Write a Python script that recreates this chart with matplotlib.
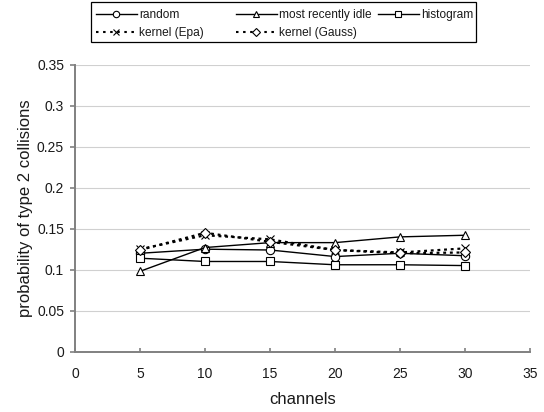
import matplotlib
matplotlib.use("Agg")
import matplotlib.pyplot as plt
from matplotlib.lines import Line2D
from matplotlib.patches import Rectangle

plt.rcParams['font.family'] = ['Liberation Sans', 'DejaVu Sans']

channels = [5, 10, 15, 20, 25, 30]
random_vals = [0.120, 0.125, 0.124, 0.116, 0.120, 0.117]
mri_vals = [0.098, 0.127, 0.133, 0.133, 0.140, 0.142]
hist_vals = [0.114, 0.110, 0.110, 0.106, 0.106, 0.105]
epa_vals = [0.125, 0.142, 0.137, 0.124, 0.121, 0.126]
gauss_vals = [0.124, 0.145, 0.134, 0.124, 0.120, 0.121]

x_ticks = [0, 5, 10, 15, 20, 25, 30, 35]
y_ticks = [0, 0.05, 0.1, 0.15, 0.2, 0.25, 0.3, 0.35]
y_labels = ['0', '0.05', '0.1', '0.15', '0.2', '0.25', '0.3', '0.35']

TXT = '#1a1a1a'
fig = plt.figure(figsize=(5.44, 4.12), dpi=100)
ax = fig.add_axes([0.1379, 0.1464, 0.8364, 0.6966])

DASH = (0, (1.3, 1.7))
solid = dict(color='black', lw=1.0, markersize=6, markerfacecolor='white',
             markeredgecolor='black', markeredgewidth=0.8)
dashed = dict(color='black', lw=1.6, linestyle=DASH, markersize=6, markerfacecolor='white',
              markeredgecolor='black', markeredgewidth=0.8)

ax.plot(channels, random_vals, marker='o', **solid)
ax.plot(channels, mri_vals, marker='^', **solid)
ax.plot(channels, hist_vals, marker='s', **solid)
ax.plot(channels, epa_vals, marker='x', **dashed)
ax.plot(channels, gauss_vals, marker='D', **{**dashed, 'markersize': 5})

ax.set_xlim(0, 35)
ax.set_ylim(0, 0.35)
ax.set_xticks(x_ticks)
ax.set_yticks(y_ticks)
ax.set_yticklabels(y_labels)
ax.grid(axis='y', color='#d0d0d0', lw=0.8)
ax.set_axisbelow(True)
for s in ['top', 'right']:
    ax.spines[s].set_visible(False)
for s in ['left', 'bottom']:
    ax.spines[s].set_color('#808080')
    ax.spines[s].set_linewidth(1.4)
ax.tick_params(axis='x', direction='in', colors='#808080', labelcolor=TXT, labelsize=10,
               length=3, width=1.2, pad=11)
ax.tick_params(axis='y', direction='out', colors='#808080', labelcolor=TXT, labelsize=10,
               length=3.6, width=1.2, pad=4.3)
ax.set_xlabel('channels', fontsize=12, color=TXT, labelpad=8)
ax.set_ylabel('probability of type 2 collisions', fontsize=12, color=TXT, labelpad=3)

# legend (Excel-style boxed legend with evenly spaced columns)
lsolid = dict(color='black', lw=1.0, markersize=4.6, markerfacecolor='white',
              markeredgecolor='black', markeredgewidth=0.8)
ldashed = dict(color='black', lw=1.5, linestyle=(0, (1.2, 2.2)), markersize=4.6,
               markerfacecolor='white', markeredgecolor='black', markeredgewidth=0.8)
p_random = Line2D([], [], marker='o', **lsolid)
p_mri = Line2D([], [], marker='^', **lsolid)
p_hist = Line2D([], [], marker='s', **lsolid)
p_epa = Line2D([], [], marker='x', **ldashed)
p_gauss = Line2D([], [], marker='D', **{**ldashed, 'markersize': 4})

columns = [([p_random, p_epa], ['random', 'kernel (Epa)'], 96 / 544),
           ([p_mri, p_gauss], ['most recently idle', 'kernel (Gauss)'], 236 / 544),
           ([p_hist], ['histogram'], 378 / 544)]
for handles, labels, x0 in columns:
    lg = fig.legend(handles, labels, loc='upper left', bbox_to_anchor=(x0, 0.978),
                    frameon=False, fontsize=8.6, handlelength=3.4, handletextpad=0.22,
                    labelspacing=0.5, borderpad=0, borderaxespad=0)
    for t in lg.get_texts():
        t.set_color(TXT)

fig.patches.append(Rectangle((91 / 544, 1 - 42 / 412), 385 / 544, 40 / 412,
                             transform=fig.transFigure, fill=False,
                             edgecolor='black', lw=0.9))

fig.savefig('out.png', dpi=100)
